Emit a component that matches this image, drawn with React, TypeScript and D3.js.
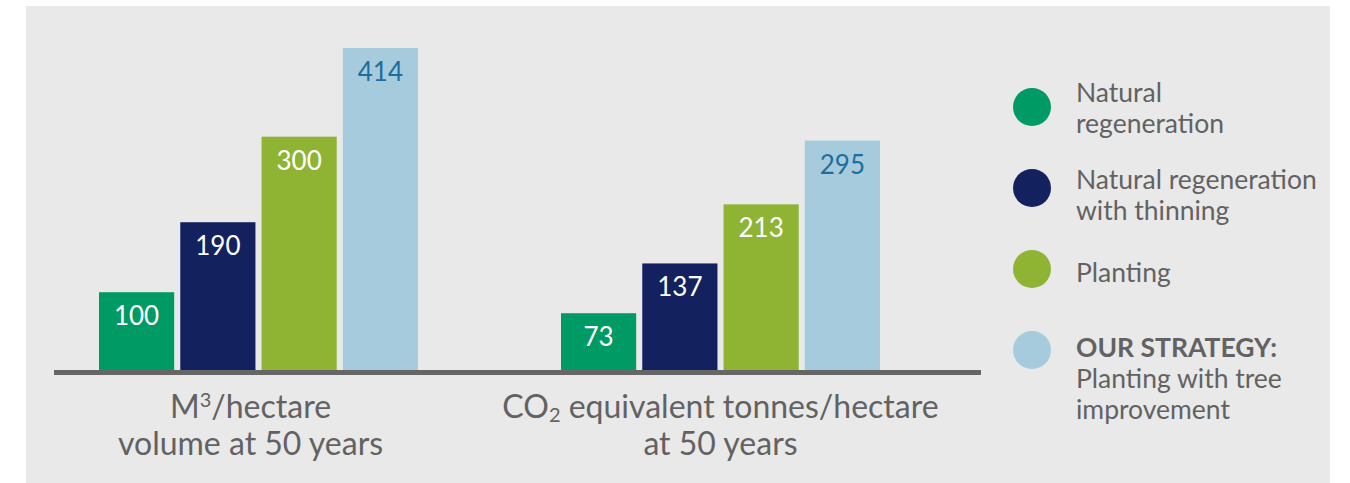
import React, { useEffect, useRef } from 'react';
import * as d3 from 'd3';

const groups = ['volume', 'co2'];
const series = [
  'Natural regeneration',
  'Natural regeneration with thinning',
  'Planting',
  'Planting with tree improvement',
];
const seriesColors = ['#009a64', '#13225e', '#8fb433', '#a6cbdd'];
const labelColors = ['#ffffff', '#ffffff', '#ffffff', '#1c6f9c'];

const volumeValues = [100, 190, 300, 414];
const co2Values = [73, 137, 213, 295];

const legendLines = [
  [{ t: 'Natural', bold: false }, { t: 'regeneration', bold: false }],
  [{ t: 'Natural regeneration', bold: false }, { t: 'with thinning', bold: false }],
  [{ t: 'Planting', bold: false }],
  [
    { t: 'OUR STRATEGY:', bold: true },
    { t: 'Planting with tree', bold: false },
    { t: 'improvement', bold: false },
  ],
];

const W = 1350;
const H = 483;
const FONT = 'Lato, "Open Sans", sans-serif';
const TEXT = '#626262';

export default function App() {
  const svgRef = useRef<SVGSVGElement>(null);

  useEffect(() => {
    if (!svgRef.current) return;
    const svg = d3.select(svgRef.current);
    svg.selectAll('*').remove();

    // panel
    svg.append('rect')
      .attr('x', 26).attr('y', 6)
      .attr('width', 1304).attr('height', H - 6)
      .attr('fill', '#e9e9e9');

    const baseY = 370;
    const y = d3.scaleLinear().domain([0, 414]).range([baseY, 48]);
    const x0 = d3.scaleBand<string>().domain(groups).range([27.5, 951.5]);
    const x1 = d3.scaleBand<string>().domain(series)
      .range([71.5, 390.5]).paddingInner(0.075);

    const data = [volumeValues, co2Values];

    groups.forEach((g, gi) => {
      const gg = svg.append('g').attr('transform', `translate(${x0(g)},0)`);
      series.forEach((s, si) => {
        const v = data[gi][si];
        gg.append('rect')
          .attr('x', x1(s)!)
          .attr('y', y(v))
          .attr('width', x1.bandwidth())
          .attr('height', baseY - y(v))
          .attr('fill', seriesColors[si]);
        gg.append('text')
          .attr('x', x1(s)! + x1.bandwidth() / 2)
          .attr('y', y(v) + 33)
          .attr('text-anchor', 'middle')
          .style('font-family', FONT)
          .style('font-size', '26px')
          .attr('fill', labelColors[si])
          .text(v);
      });
    });

    // baseline axis
    svg.append('line')
      .attr('x1', 54).attr('x2', 981)
      .attr('y1', baseY + 2.5).attr('y2', baseY + 2.5)
      .attr('stroke', '#666666').attr('stroke-width', 5);

    // category labels
    const c1 = x0('volume')! + x0.bandwidth() / 2 - 8;
    const c2 = x0('co2')! + x0.bandwidth() / 2;
    const catStyle = (t: d3.Selection<SVGTextElement, unknown, null, undefined>) =>
      t.attr('text-anchor', 'middle')
        .style('font-family', FONT)
        .style('font-size', '32px')
        .attr('fill', TEXT);

    const t1 = svg.append('text').attr('x', c1).attr('y', 418).call(catStyle);
    t1.append('tspan').text('M');
    t1.append('tspan').attr('dy', -11).style('font-size', '20px').text('3');
    t1.append('tspan').attr('dy', 11).text('/hectare');
    svg.append('text').attr('x', c1).attr('y', 455).call(catStyle).text('volume at 50 years');

    const t2 = svg.append('text').attr('x', c2).attr('y', 418).call(catStyle);
    t2.append('tspan').text('CO');
    t2.append('tspan').attr('dy', 4).style('font-size', '20px').text('2');
    t2.append('tspan').attr('dy', -4).text(' equivalent tonnes/hectare');
    svg.append('text').attr('x', c2).attr('y', 455).call(catStyle).text('at 50 years');

    // legend
    const legendY = d3.scaleLinear().domain([0, 3]).range([107, 350]);
    const firstBaseline = [-5, 1, 13, 7];
    legendLines.forEach((lines, i) => {
      const cy = legendY(i);
      svg.append('circle')
        .attr('cx', 1032).attr('cy', cy).attr('r', 19)
        .attr('fill', seriesColors[i]);
      lines.forEach((ln, li) => {
        svg.append('text')
          .attr('x', 1076)
          .attr('y', cy + firstBaseline[i] + li * 31)
          .style('font-family', FONT)
          .style('font-size', '26.5px')
          .style('font-weight', ln.bold ? 700 : 400)
          .attr('fill', TEXT)
          .text(ln.t);
      });
    });
  }, []);

  return (
    <svg
      ref={svgRef}
      width={W}
      height={H}
      style={{ position: 'absolute', left: 0, top: 0, background: '#ffffff' }}
    />
  );
}
